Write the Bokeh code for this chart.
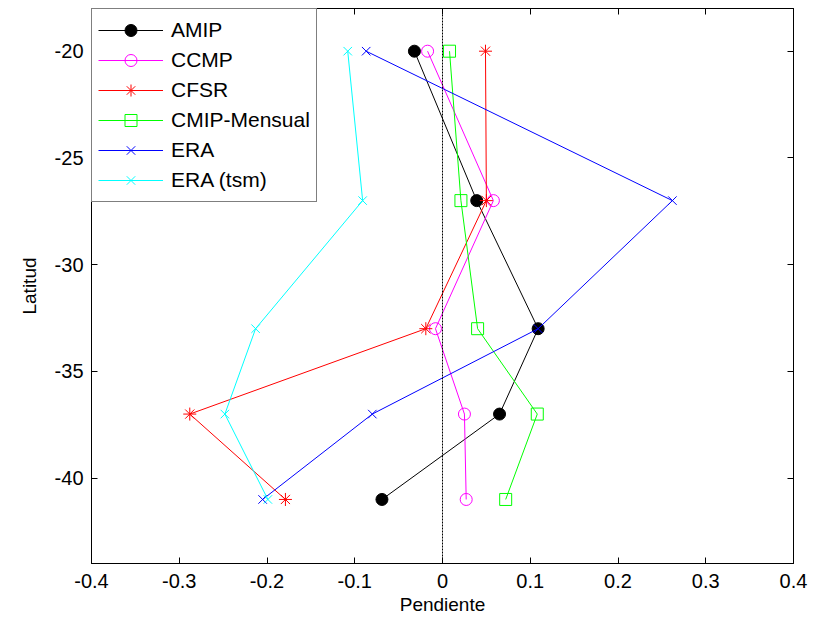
from bokeh.plotting import figure
from bokeh.models import (Range1d, FixedTicker, LinearAxis, Span, Legend, LegendItem)
from bokeh.embed import file_html
from bokeh.resources import INLINE

latitud = [-20, -27, -33, -37, -41]
amip = [-0.032, 0.039, 0.109, 0.065, -0.069]
ccmp = [-0.017, 0.058, -0.008, 0.025, 0.027]
cfsr = [0.049, 0.050, -0.019, -0.288, -0.179]
cmip_mensual = [0.008, 0.021, 0.040, 0.108, 0.072]
era = [-0.087, 0.262, 0.109, -0.080, -0.205]
era_tsm = [-0.108, -0.091, -0.213, -0.248, -0.199]

x_ticks = [-0.4, -0.3, -0.2, -0.1, 0, 0.1, 0.2, 0.3, 0.4]
x_tick_labels = ["-0.4", "-0.3", "-0.2", "-0.1", "0", "0.1", "0.2", "0.3", "0.4"]
y_ticks = [-40, -35, -30, -25, -20]
y_tick_labels = ["-40", "-35", "-30", "-25", "-20"]

FONT = "Liberation Sans"

p = figure(width=813, height=620, output_backend="svg", toolbar_location=None,
           x_range=Range1d(-0.4, 0.4), y_range=Range1d(-44, -18),
           min_border_left=91, min_border_right=20, min_border_top=8,
           min_border_bottom=57, background_fill_color="white",
           border_fill_color="white")
p.xgrid.visible = False
p.ygrid.visible = False
p.outline_line_color = "black"
p.outline_line_width = 1

for ax, ticks, labels in ((p.xaxis[0], x_ticks, x_tick_labels),
                          (p.yaxis[0], y_ticks, y_tick_labels)):
    ax.ticker = FixedTicker(ticks=ticks)
    ax.major_label_overrides = {t: s for t, s in zip(ticks, labels)}
    ax.major_tick_in = 6
    ax.major_tick_out = 0
    ax.minor_tick_line_color = None
    ax.axis_line_color = "black"
    ax.major_tick_line_color = "black"
    ax.major_label_text_font = FONT
    ax.major_label_text_font_size = "20px"
    ax.major_label_text_color = "black"
    ax.axis_label_text_font = FONT
    ax.axis_label_text_font_size = "19px"
    ax.axis_label_text_font_style = "normal"
    ax.axis_label_text_color = "black"

p.xaxis[0].axis_label = "Pendiente"
p.xaxis[0].major_label_standoff = 10
p.xaxis[0].axis_label_standoff = 3
p.yaxis[0].axis_label = "Latitud"
p.yaxis[0].major_label_standoff = 8
p.yaxis[0].axis_label_standoff = 12

for loc, ticks in (("above", x_ticks), ("right", y_ticks)):
    ax = LinearAxis(ticker=FixedTicker(ticks=ticks), major_tick_in=6, major_tick_out=0,
                    minor_tick_line_color=None,
                    major_label_overrides={t: "" for t in ticks},
                    major_label_standoff=0, axis_line_color="black")
    p.add_layout(ax, loc)

p.add_layout(Span(location=0, dimension="height", line_color="black",
                  line_width=1, line_dash="2 1"))

series = [
    ("AMIP", amip, "black", "circle", 12, "black"),
    ("CCMP", ccmp, "#FF00FF", "circle", 12, None),
    ("CFSR", cfsr, "#FF0000", "asterisk", 13, None),
    ("CMIP-Mensual", cmip_mensual, "#00FF00", "square", 12, None),
    ("ERA", era, "#0000FF", "x", 12, None),
    ("ERA (tsm)", era_tsm, "#00FFFF", "x", 12, None),
]

items = []
for name, xs, color, marker, size, fill in series:
    r1 = p.line(xs, latitud, line_color=color, line_width=1)
    r2 = p.scatter(xs, latitud, marker=marker, size=size, line_color=color,
                   fill_color=fill, line_width=1)
    items.append(LegendItem(label=name, renderers=[r1, r2]))

legend = Legend(items=items, location="top_left", margin=0, padding=6, spacing=0,
                glyph_width=65, glyph_height=30, label_height=30,
                label_standoff=8, label_text_font=FONT,
                label_text_font_size="21px", label_text_color="black",
                border_line_color="black", border_line_width=1,
                background_fill_color="white", background_fill_alpha=1)
p.add_layout(legend)

open("out.html", "w").write(file_html(p, INLINE))
